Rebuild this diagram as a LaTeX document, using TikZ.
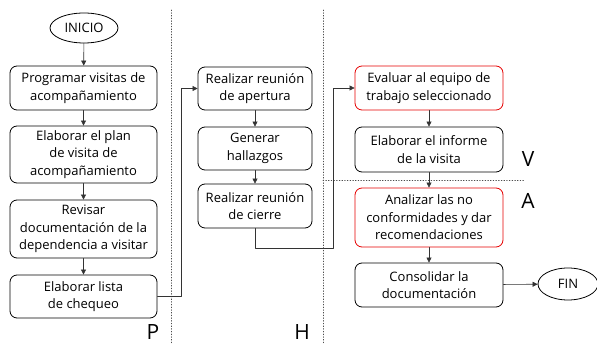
\documentclass[tikz,border=0pt]{standalone}
\usepackage{fontspec}
\setmainfont{Open Sans}
\usepackage{tikz}
\usetikzlibrary{arrows.meta,positioning,shapes.geometric}

\begin{document}
\begin{tikzpicture}[x=1pt, y=-1pt, >={Triangle[length=5pt,width=5pt]},
  line cap=round, line join=round,
  stepbox/.style={draw, line width=0.8pt, rounded corners=7pt, align=center,
    inner sep=0pt, font=\fontsize{13}{17.5}\selectfont},
  redbox/.style={stepbox, draw=red!90!black},
  endpoint/.style={draw, ellipse, line width=0.8pt, inner sep=0pt,
    font=\fontsize{13}{15}\selectfont},
  flow/.style={->, line width=0.6pt, draw=black!80},
  lane/.style={dotted, line width=0.7pt, black!70},
  phase/.style={font=\fontsize{21}{24}\selectfont}]

  \useasboundingbox (0,0) rectangle (597,344);

  % --- phase lanes ---
  \draw[lane] (171,10) -- (171,344);
  \draw[lane] (323,10) -- (323,344);
  \draw[lane] (323,180) -- (525,180);
  \node[phase] (lblP) at (153,332) {P};
  \node[phase] (lblH) at (302,332) {H};
  \node[phase] (lblV) at (528,159) {V};
  \node[phase] (lblA) at (528,201) {A};

  % --- P: planning ---
  \node[endpoint, minimum width=68pt, minimum height=30pt] (inicio) at (84,28) {INICIO};
  \node[stepbox, minimum width=147pt, minimum height=44pt] (prog) at (83.5,88)
       {Programar visitas de\\acompañamiento};
  \node[stepbox, minimum width=147pt, minimum height=57pt] (plan) at (83.5,154.5)
       {Elaborar el plan\\de visita de\\acompañamiento};
  \node[stepbox, minimum width=147pt, minimum height=58pt] (revisar) at (83.5,229)
       {Revisar\\documentación de la\\dependencia a visitar};
  \node[stepbox, minimum width=147pt, minimum height=43pt] (lista) at (83.5,296.5)
       {Elaborar lista\\de chequeo};

  % --- H: doing ---
  \node[stepbox, minimum width=114pt, minimum height=43pt] (apertura) at (255,88.5)
       {Realizar reunión\\de apertura};
  \node[stepbox, minimum width=114pt, minimum height=43pt] (hallazgos) at (255,148.5)
       {Generar\\hallazgos};
  \node[stepbox, minimum width=114pt, minimum height=44pt] (cierre) at (255,206)
       {Realizar reunión\\de cierre};

  % --- V / A: checking and acting ---
  \node[redbox, minimum width=148pt, minimum height=44pt] (evaluar) at (429,88)
       {Evaluar al equipo de\\trabajo seleccionado};
  \node[stepbox, minimum width=148pt, minimum height=45pt] (informe) at (429,149.5)
       {Elaborar el informe\\de la visita};
  \node[redbox, minimum width=148pt, minimum height=59pt] (analizar) at (429,217.5)
       {Analizar las no\\conformidades y dar\\recomendaciones};
  \node[stepbox, minimum width=148pt, minimum height=44pt] (consolidar) at (429,285)
       {Consolidar la\\documentación};
  \node[endpoint, minimum width=60pt, minimum height=32pt] (fin) at (568,284) {FIN};

  % --- connectors ---
  \draw[flow] (inicio) -- (prog);
  \draw[flow] (prog) -- (plan);
  \draw[flow] (plan) -- (revisar);
  \draw[flow] (revisar) -- (lista);
  \draw[flow] (lista.east) -- ++(24,0) |- (apertura.west);
  \draw[flow] (apertura) -- (hallazgos);
  \draw[flow] (hallazgos) -- (cierre);
  \coordinate (turn) at (333,248);
  \draw[flow] (cierre.south) |- (turn) |- (evaluar.west);
  \draw[flow] (evaluar) -- (informe);
  \draw[flow] (informe) -- (analizar);
  \draw[flow] (analizar) -- (consolidar);
  \draw[flow] (consolidar) -- (fin);
\end{tikzpicture}
\end{document}
